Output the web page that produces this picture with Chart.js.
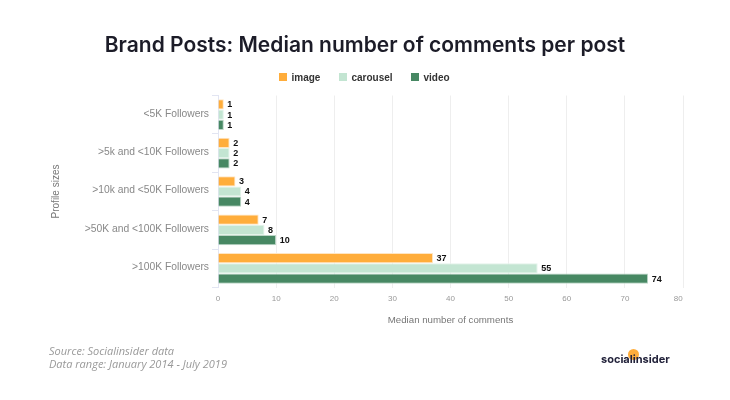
<!DOCTYPE html>
<html>
<head>
<meta charset="utf-8">
<script src="https://cdn.jsdelivr.net/npm/chart.js@4"></script>
<style>
  html, body { margin: 0; padding: 0; background: #fff; }
  #wrap { position: relative; width: 730px; height: 400px; overflow: hidden; }
  #myChart { position: absolute; left: 0; top: 0; }
  .title { position: absolute; left: 0; width: 730px; top: 32px; text-align: center; font: 600 21px Inter, sans-serif; color: #1c1c28; }
  .legend { position: absolute; top: 71px; left: 279px; height: 12px; font: bold 10px "Liberation Sans", sans-serif; color: #333; }
  .legend span { position: absolute; top: 0; line-height: 13px; white-space: nowrap; }
  .legend i { position: absolute; top: 2px; width: 8px; height: 8px; }
  .source { position: absolute; left: 49px; top: 344px; font: italic 11px/13px "Open Sans", sans-serif; color: #999; }
  .logo { position: absolute; left: 601px; top: 352px; font: bold 11px/14px Inter, sans-serif; color: #22223a; }
  .dot { position: absolute; left: 628px; top: 349px; width: 11px; height: 11px; border-radius: 50%; background: #ffad3b; }
</style>
</head>
<body>
<div id="wrap">
  <canvas id="myChart" width="730" height="400"></canvas>
  <div class="title">Brand Posts: Median number of comments per post</div>
  <div class="legend" id="legend"></div>
  <div class="source">Source: Socialinsider data<br>Data range: January 2014 - July 2019</div>
  <div class="dot"></div>
  <div class="logo">socialinsider</div>
</div>
<script>
const categories = ["<5K Followers", ">5k and <10K Followers", ">10k and <50K Followers", ">50K and <100K Followers", ">100K Followers"];
const seriesNames = ["image", "carousel", "video"];
const imageValues = [1, 2, 3, 7, 37];
const carouselValues = [1, 2, 4, 8, 55];
const videoValues = [1, 2, 4, 10, 74];
const xTicks = [0, 10, 20, 30, 40, 50, 60, 70, 80];

const colors = ["#ffad3b", "#c3e5d2", "#478863"];
const borders = ["#ffe6c4", "#e3f3ea", "#bcd6c7"];

// legend is plain dom, easier to place
const legendX = [0, 60, 132];
const legend = document.getElementById("legend");
seriesNames.forEach((name, i) => {
  legend.innerHTML += `<i style="left:${legendX[i]}px;background:${colors[i]}"></i><span style="left:${legendX[i] + 12.5}px">${name}</span>`;
});

// value labels at the end of each bar
const barLabels = {
  id: "barLabels",
  afterDatasetsDraw(chart) {
    const c = chart.ctx;
    c.save();
    c.font = 'bold 9px "Liberation Sans"';
    c.fillStyle = "#111";
    c.textBaseline = "middle";
    chart.data.datasets.forEach((ds, i) => {
      chart.getDatasetMeta(i).data.forEach((bar, j) => {
        c.fillText(ds.data[j], bar.x + 3.5, bar.y + 0.5);
      });
    });
    c.restore();
  },
};

const ctx = document.getElementById("myChart");
new Chart(ctx, {
  type: "bar",
  data: {
    labels: categories,
    datasets: [imageValues, carouselValues, videoValues].map((vals, i) => ({
      label: seriesNames[i],
      data: vals,
      backgroundColor: colors[i],
      borderColor: borders[i],
      borderWidth: 1,
      barPercentage: 1,
      categoryPercentage: 0.8,
    })),
  },
  options: {
    indexAxis: "y",
    responsive: false,
    animation: false,
    layout: { padding: { top: 95.5, left: 50, right: 47, bottom: 73.5 } },
    plugins: { legend: { display: false }, title: { display: false }, tooltip: { enabled: false } },
    scales: {
      x: {
        min: 0,
        max: 80,
        afterFit: (s) => { s.height = 39; },
        afterBuildTicks: (s) => { s.ticks = xTicks.map((v) => ({ value: v })); },
        grid: { color: "#eeeeee", drawTicks: false },
        border: { display: false },
        ticks: {
          padding: 6,
          maxRotation: 0,
          autoSkip: false,
          color: "#999",
          font: { family: "Liberation Sans", size: 8 },
          // last label sits a bit left of its grid line
          callback: (v) => (v === 80 ? v + "\u2003\u2009" : v),
        },
        title: { display: true, text: "Median number of comments", color: "#777", font: { family: "Liberation Sans", size: 9.7 }, padding: 0 },
      },
      y: {
        afterFit: (s) => { s.width = 168; },
        grid: { color: "#e2e5f2", drawOnChartArea: false, tickLength: 6 },
        border: { color: "#e2e5f2" },
        ticks: { padding: 3, labelOffset: -1, color: "#888", font: { family: "Liberation Sans", size: 10.3 } },
        title: { display: true, text: "Profile sizes", color: "#777", font: { family: "Liberation Sans", size: 10 }, padding: 0 },
      },
    },
  },
  plugins: [barLabels],
});
</script>
</body>
</html>
